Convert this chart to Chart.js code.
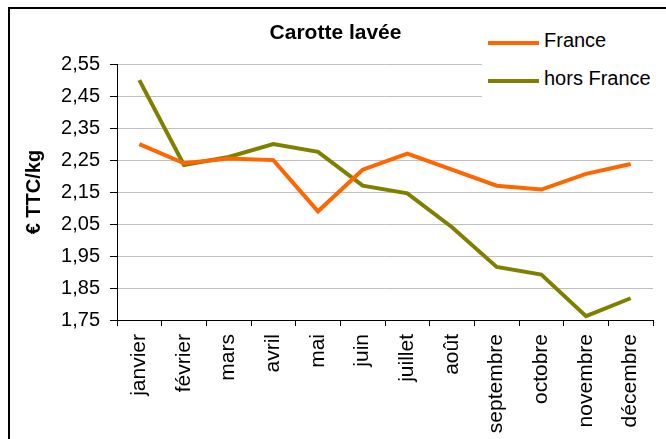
<!DOCTYPE html>
<html lang="fr">

<head>
  <meta charset="UTF-8">
  <title>Carotte lavée</title>
  <script src="https://cdn.jsdelivr.net/npm/chart.js"></script>
  <style>
    html, body { margin: 0; padding: 0; background: #fff; overflow: hidden; }
    #wrap { position: relative; width: 666px; height: 439px; }
    #frame { position: absolute; left: 8px; top: 7px; width: 1000px; height: 1000px; border: 2px solid #000; box-sizing: border-box; pointer-events: none; }
    #legend { position: absolute; left: 482px; top: 18px; width: 184px; height: 88px; background: #fff; font-family: "Liberation Sans", Arial, sans-serif; font-size: 20px; color: #000; }
    .item { position: absolute; left: 6px; height: 24px; line-height: 24px; white-space: nowrap; }
    .item i { display: inline-block; width: 51px; height: 4px; vertical-align: middle; margin-right: 5px; position: relative; top: 1px; }
  </style>
</head>

<body>
  <div id="wrap">
    <canvas id="chart" width="666" height="439"></canvas>
    <div id="legend"></div>
    <div id="frame"></div>
  </div>

  <script>
    // Data
    const months = ['janvier', 'février', 'mars', 'avril', 'mai', 'juin', 'juillet', 'août', 'septembre', 'octobre', 'novembre', 'décembre'];
    const france = [2.30, 2.24, 2.255, 2.25, 2.09, 2.22, 2.27, 2.22, 2.17, 2.158, 2.207, 2.238];
    const horsFrance = [2.50, 2.235, 2.26, 2.30, 2.276, 2.17, 2.146, 2.04, 1.916, 1.892, 1.762, 1.818];
    const seriesNames = ['France', 'hors France'];
    const seriesColors = ['#ff6600', '#808000'];
    const yMin = 1.75, yMax = 2.55, yStep = 0.1;

    const font = '"Liberation Sans", Arial, sans-serif';

    // Legend (sits over the top right of the plot, white box hides the grid)
    const legend = document.getElementById('legend');
    seriesNames.forEach((name, i) => {
      const el = document.createElement('div');
      el.className = 'item';
      el.style.top = (10 + i * 38) + 'px';
      el.innerHTML = '<i style="background:' + seriesColors[i] + '"></i>' + name;
      legend.appendChild(el);
    });

    const ctx = document.getElementById('chart').getContext('2d');
    new Chart(ctx, {
      type: 'line',
      data: {
        labels: months,
        datasets: [
          { label: seriesNames[0], data: france, borderColor: seriesColors[0], backgroundColor: seriesColors[0], borderWidth: 4, pointRadius: 0, tension: 0 },
          { label: seriesNames[1], data: horsFrance, borderColor: seriesColors[1], backgroundColor: seriesColors[1], borderWidth: 4, pointRadius: 0, tension: 0 }
        ]
      },
      options: {
        responsive: false,
        animation: false,
        layout: { padding: { left: 18, right: 13, top: 0, bottom: 0 } },
        plugins: {
          legend: { display: false },
          tooltip: { enabled: false },
          title: {
            display: true,
            text: 'Carotte lavée',
            color: '#000',
            font: { family: font, size: 21, weight: 'bold' },
            padding: { top: 21, bottom: 18 }
          }
        },
        scales: {
          x: {
            offset: true,
            grid: { offset: true, drawOnChartArea: false, drawTicks: true, tickLength: 6, tickColor: '#000' },
            border: { color: '#000', width: 1 },
            ticks: { color: '#000', minRotation: 90, maxRotation: 90, padding: 8, font: { family: font, size: 21 } },
            afterFit: s => { s.height = 119; }
          },
          y: {
            min: yMin,
            max: yMax,
            grid: { color: '#c0c0c0', tickColor: '#000', tickLength: 7 },
            border: { color: '#000', width: 1 },
            ticks: {
              stepSize: yStep,
              color: '#000',
              padding: 10,
              font: { family: font, size: 20 },
              callback: v => v.toFixed(2).replace('.', ',')
            },
            title: {
              display: true,
              text: '€ TTC/kg',
              color: '#000',
              font: { family: font, size: 20, weight: 'bold' }
            },
            afterFit: s => { s.width = 99; }
          }
        }
      }
    });
  </script>
</body>

</html>
